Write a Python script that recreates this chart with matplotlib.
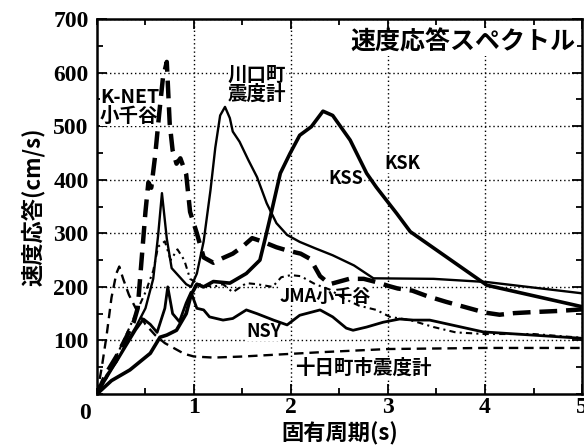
import matplotlib
matplotlib.use('Agg')
import matplotlib.pyplot as plt
from matplotlib.ticker import MultipleLocator

plt.rcParams['font.family'] = ['Noto Sans CJK JP', 'DejaVu Sans']

# K-NET 小千谷 (thick dashed)
knet_t = [0, 0.1, 0.2, 0.3, 0.38, 0.42, 0.46, 0.5, 0.53, 0.56, 0.6, 0.64, 0.68, 0.72,
          0.75, 0.78, 0.82, 0.86, 0.92, 0.96, 1.03, 1.1, 1.2, 1.3, 1.4, 1.5, 1.6, 1.7,
          1.85, 1.96, 2.1, 2.2, 2.3, 2.4, 2.6, 2.75, 2.9, 3.0, 3.1, 3.25, 3.4, 3.6,
          3.8, 4.0, 4.15, 4.3, 4.5, 4.75, 5.0]
knet_v = [0, 40, 70, 105, 135, 160, 250, 340, 395, 385, 445, 520, 590, 620,
          505, 455, 430, 440, 410, 340, 300, 255, 245, 254, 262, 275, 291, 285,
          274, 268, 262, 252, 220, 205, 215, 215, 208, 202, 197, 193, 183, 172,
          162, 152, 148, 151, 153, 155, 158]

# 川口町震度計 (thin solid)
kawa_t = [0, 0.1, 0.2, 0.3, 0.4, 0.5, 0.58, 0.63, 0.67, 0.72, 0.77, 0.82, 0.87, 0.92,
          0.97, 1.03, 1.1, 1.17, 1.22, 1.27, 1.32, 1.37, 1.4, 1.47, 1.56, 1.65, 1.75,
          1.85, 1.96, 2.09, 2.25, 2.43, 2.65, 2.85, 3.47, 4.02, 5.0]
kawa_v = [0, 30, 60, 95, 125, 160, 215, 295, 375, 290, 235, 225, 215, 205,
          200, 225, 285, 380, 460, 520, 536, 515, 490, 471, 437, 405, 356,
          319, 297, 284, 272, 259, 240, 216, 215, 209, 188]

# KSK (thick solid)
ksk_t = [0, 0.15, 0.34, 0.55, 0.65, 0.72, 0.82, 0.92, 0.97, 1.03, 1.1, 1.2, 1.37, 1.54,
         1.68, 1.73, 1.78, 1.89, 1.99, 2.09, 2.21, 2.33, 2.43, 2.61, 2.78, 2.88, 3.09,
         3.23, 4.02, 5.0]
ksk_v = [0, 25, 45, 76, 106, 110, 119, 150, 185, 205, 200, 210, 207, 225,
         250, 287, 325, 412, 449, 483, 499, 528, 520, 474, 412, 386, 337,
         303, 203, 163]

# NSY (medium solid)
nsy_t = [0, 0.1, 0.2, 0.3, 0.4, 0.48, 0.55, 0.62, 0.7, 0.73, 0.78, 0.85, 0.92, 0.97,
         1.03, 1.1, 1.16, 1.3, 1.4, 1.54, 1.65, 1.82, 1.96, 2.09, 2.3, 2.43, 2.57,
         2.64, 2.78, 2.95, 3.12, 3.26, 3.43, 3.98, 5.0]
nsy_v = [0, 35, 60, 90, 120, 140, 130, 115, 160, 200, 150, 135, 170, 190,
         160, 157, 144, 138, 141, 157, 150, 138, 129, 147, 157, 144, 123,
         119, 125, 134, 140, 138, 138, 116, 104]

# JMA小千谷 (dash-dot)
jma_t = [0, 0.1, 0.2, 0.3, 0.4, 0.5, 0.58, 0.63, 0.7, 0.76, 0.83, 0.9, 0.96, 1.05,
         1.2, 1.3, 1.4, 1.54, 1.65, 1.81, 1.9, 2.0, 2.1, 2.25, 2.4, 2.55, 2.7, 2.88,
         3.02, 3.23, 3.47, 3.7, 4.0, 4.5, 5.0]
jma_v = [0, 30, 70, 110, 150, 190, 230, 275, 285, 250, 270, 250, 215, 205,
         200, 205, 190, 207, 205, 200, 218, 222, 220, 205, 195, 178, 165, 157,
         144, 138, 125, 115, 112, 112, 105]

# 十日町市震度計 (thin dashed)
toka_t = [0, 0.05, 0.1, 0.15, 0.2, 0.23, 0.27, 0.33, 0.4, 0.5, 0.6, 0.7, 0.8, 0.9,
          1.0, 1.2, 1.5, 2.0, 2.3, 3.0, 4.0, 5.0]
toka_v = [0, 50, 110, 180, 225, 238, 215, 185, 160, 130, 110, 95, 85, 75,
          70, 68, 70, 75, 78, 84, 86, 86]

fig = plt.figure(figsize=(5.84, 4.48), dpi=100)
ax = fig.add_axes([0.166, 0.1205, 0.8306, 0.837])

ax.plot(knet_t, knet_v, color='black', lw=3.2, dashes=(4, 2), zorder=3)
ax.plot(kawa_t, kawa_v, color='black', lw=1.7, zorder=3)
ax.plot(ksk_t, ksk_v, color='black', lw=2.6, zorder=3)
ax.plot(nsy_t, nsy_v, color='black', lw=2.0, zorder=3)
ax.plot(jma_t, jma_v, color='black', lw=1.5, dashes=(3, 2, 1, 2), zorder=3)
ax.plot(toka_t, toka_v, color='black', lw=1.7, dashes=(4, 2.5), zorder=3)

ax.set_xlim(0, 5)
ax.set_ylim(0, 700)
ax.xaxis.set_major_locator(MultipleLocator(1))
ax.xaxis.set_minor_locator(MultipleLocator(0.5))
ax.yaxis.set_major_locator(MultipleLocator(100))
ax.yaxis.set_minor_locator(MultipleLocator(50))
ax.set_axisbelow(True)
ax.grid(True, which='major', color='black', linestyle=(0, (1, 2)), lw=1.0)
ax.tick_params(which='both', direction='in', top=True, right=True, width=1.3)
ax.tick_params(which='major', length=7)
ax.tick_params(which='minor', length=4)
for s in ax.spines.values():
    s.set_linewidth(1.8)

ax.set_xticks([1, 2, 3, 4, 5])
ax.set_yticks([100, 200, 300, 400, 500, 600, 700])
for lab in ax.get_xticklabels() + ax.get_yticklabels():
    lab.set_family('Liberation Serif')
    lab.set_fontsize(17)
    lab.set_fontweight('bold')
ax.tick_params(axis='x', pad=2)
ax.tick_params(axis='y', pad=6)
ax.text(-0.012, -0.025, '0', transform=ax.transAxes, ha='right', va='top',
        family='Liberation Serif', fontsize=17, fontweight='bold')

ax.set_xlabel('固有周期(s)', fontsize=16, fontweight='bold', labelpad=3)
ax.set_ylabel('速度応答(cm/s)', fontsize=16, fontweight='bold', labelpad=6)

box = dict(facecolor='white', edgecolor='none', pad=0)
ax.text(4.93, 657, '速度応答スペクトル', ha='right', va='center', fontsize=18,
        fontweight='bold', zorder=2, bbox=dict(facecolor='white', edgecolor='none', pad=1))
ax.text(0.03, 535, 'K-NET\n小千谷', ha='left', va='center', fontsize=14,
        fontweight='bold', linespacing=1.0, zorder=2, bbox=box)
ax.text(1.65, 578, '川口町\n震度計', ha='center', va='center', fontsize=14,
        fontweight='bold', linespacing=1.0, zorder=2, bbox=box)
ax.text(2.57, 403, 'KSS', ha='center', va='center', fontsize=13,
        fontweight='bold', zorder=2, bbox=box)
ax.text(3.15, 430, 'KSK', ha='center', va='center', fontsize=13,
        fontweight='bold', zorder=2, bbox=box)
ax.text(2.35, 183, 'JMA小千谷', ha='center', va='center', fontsize=13,
        fontweight='bold', zorder=2, bbox=box)
ax.text(1.72, 117, 'NSY', ha='center', va='center', fontsize=13,
        fontweight='bold', zorder=2, bbox=box)
ax.text(2.75, 48, '十日町市震度計', ha='center', va='center', fontsize=14,
        fontweight='bold', zorder=2, bbox=box)

fig.savefig('out.png', dpi=100)
